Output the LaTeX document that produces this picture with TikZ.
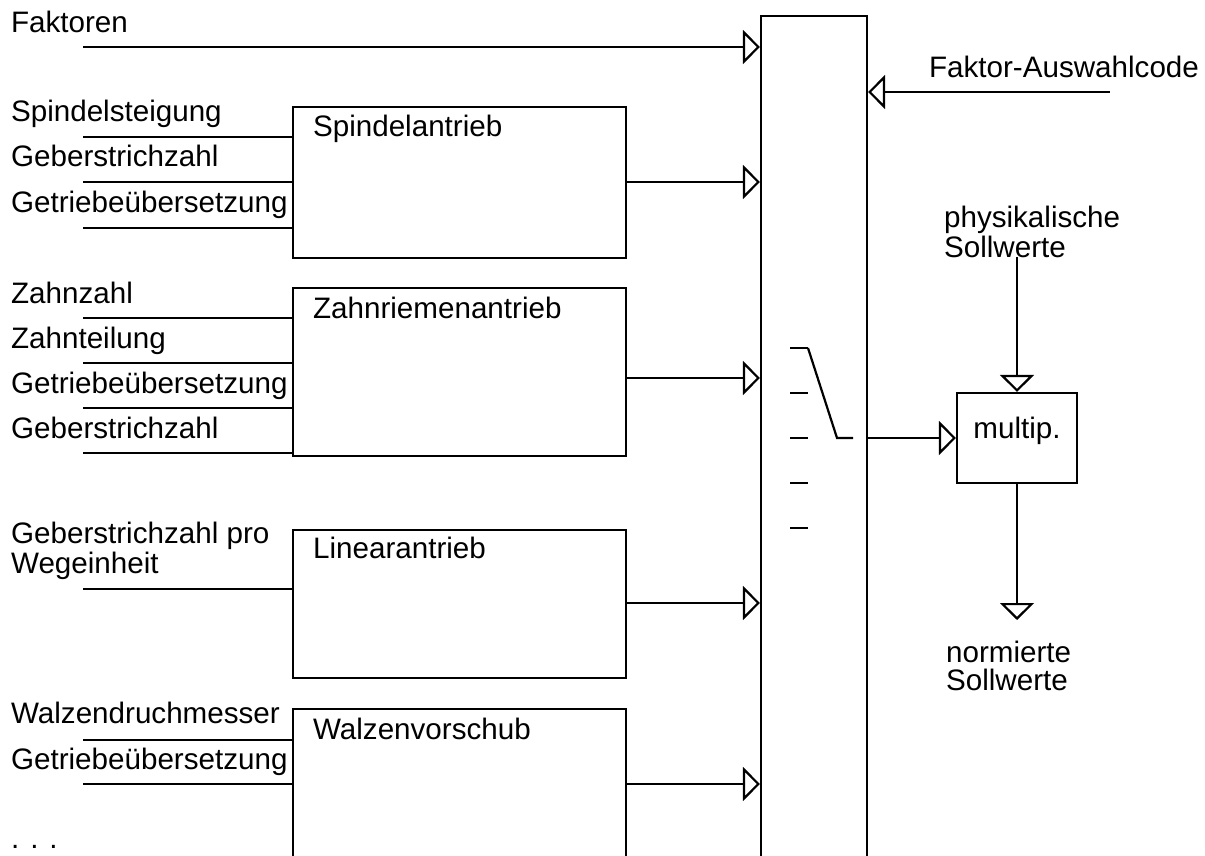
\documentclass[tikz,border=0pt]{standalone}
\usepackage{fontspec}
\setmainfont{Liberation Sans}
\usetikzlibrary{arrows.meta}
\begin{document}
\begin{tikzpicture}[x=1pt,y=-1pt,line width=2.2pt,
  every node/.style={font=\fontsize{29.6}{30}\selectfont,inner sep=0pt},
  txt/.style={anchor=base west},
  blk/.style={draw,rectangle,minimum width=333pt},
  arr/.style={-{Triangle[open,length=17pt,width=34pt]}}]
\useasboundingbox (0,0) rectangle (1205,856);
\clip (0,0) rectangle (1205,856);

% central selector block
\node[draw,rectangle,minimum width=106pt,minimum height=854pt] (bus) at (814,443) {};

% drive blocks
\node[blk,minimum height=151pt] (spindel) at (459.5,182.5) {};
\node[blk,minimum height=168pt] (zahn) at (459.5,372) {};
\node[blk,minimum height=148pt] (linear) at (459.5,604) {};
\node[blk,minimum height=162pt] (walzen) at (459.5,790) {};

\node[txt] (tspindel) at (312,137) {Spindelantrieb};
\node[txt] (tzahn) at (312,318) {Zahnriemenantrieb};
\node[txt] (tlinear) at (312,558) {Linearantrieb};
\node[txt] (twalzen) at (312,739) {Walzenvorschub};

% multiplier
\node[draw,rectangle,minimum width=120pt,minimum height=90pt,
      text height=14pt,text depth=14pt] (mult) at (1017,438) {multip.};

% input labels
\node[txt] (lfak) at (10,33) {Faktoren};
\node[txt] (l1) at (10,122) {Spindelsteigung};
\node[txt] (l2) at (10,167) {Geberstrichzahl};
\node[txt] (l3) at (10,212) {Getriebeübersetzung};
\node[txt] (l4) at (10,303) {Zahnzahl};
\node[txt] (l5) at (10,348) {Zahnteilung};
\node[txt] (l6) at (10,393) {Getriebeübersetzung};
\node[txt] (l7) at (10,438) {Geberstrichzahl};
\node[txt] (l8) at (10,543) {Geberstrichzahl pro};
\node[txt] (l8b) at (10,573) {Wegeinheit};
\node[txt] (l9) at (10,723) {Walzendruchmesser};
\node[txt] (l10) at (10,769) {Getriebeübersetzung};
\node[txt] (ldots) at (10,848) {. . .};

\node[txt] (lcode) at (928,78) {Faktor-Auswahlcode};
\node[txt] (lphys) at (943,227) {physikalische};
\node[txt] (lphys2) at (943,257) {Sollwerte};
\node[txt] (lnorm) at (945,662) {normierte};
\node[txt] (lnorm2) at (945,690) {Sollwerte};

% input lines into the drive blocks
\foreach \y in {137,182,228} \draw (83,\y) -- (spindel.west |- 0,\y);
\foreach \y in {318,363,408,453} \draw (83,\y) -- (zahn.west |- 0,\y);
\draw (83,589) -- (linear.west |- 0,589);
\foreach \y in {740,784} \draw (83,\y) -- (walzen.west |- 0,\y);

% connections into the selector
\coordinate (fstart) at (83,47);
\draw[arr] (fstart) -- (bus.west |- fstart);
\draw[arr] (spindel.east |- 0,182) -- (bus.west |- 0,182);
\draw[arr] (zahn.east |- 0,378) -- (bus.west |- 0,378);
\draw[arr] (linear.east |- 0,603) -- (bus.west |- 0,603);
\draw[arr] (walzen.east |- 0,784) -- (bus.west |- 0,784);
\coordinate (cstart) at (1110,92);
\draw[arr] (cstart) -- (bus.east |- cstart);

% selector switch
\foreach \y in {348,393,438,483,528} \draw (790,\y) -- (808,\y);
\draw (808,348) -- (837,438) -- (853,438);

% multiplier connections
\draw[arr] (bus.east |- mult.west) -- (mult.west);
\coordinate (pin) at (1017,257);
\draw[arr] (pin) -- (mult.north);
\coordinate (pout) at (1017,620);
\draw[arr] (mult.south) -- (pout);
\end{tikzpicture}
\end{document}
